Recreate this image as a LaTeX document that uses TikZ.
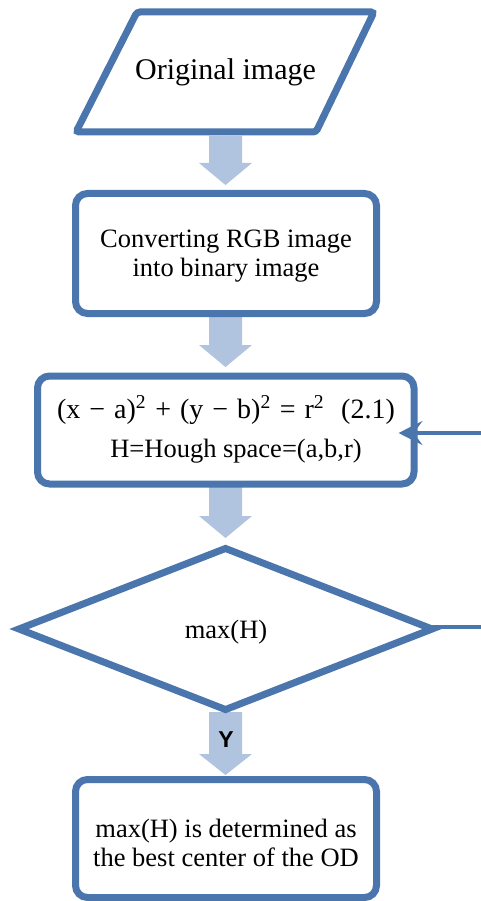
\documentclass[tikz,border=0pt]{standalone}
\usepackage{fontspec}
\setmainfont{Liberation Serif}
\newfontfamily\ysans{Liberation Sans}
\usetikzlibrary{shapes.geometric,shadows,arrows.meta}
\definecolor{bordblue}{HTML}{4A75AD}
\definecolor{arrblue}{HTML}{B0C3DF}
\tikzset{
  shade/.style={drop shadow={opacity=0.22,shadow xshift=2pt,shadow yshift=-3pt}},
  procbox/.style={draw=bordblue,line width=7pt,fill=white,rounded corners=12pt,shade,inner sep=0pt},
  txt/.style={font=\fontsize{26.5}{29}\selectfont,align=center,inner sep=0pt},
  blk/.style={fill=arrblue},
  fb/.style={draw=bordblue,line width=4.5pt},
}
\newcommand\blkarrow[3]{%
  \fill[blk] (209,#1) -- (242,#1) -- (242,#2) -- (252,#2) -- (225.5,#3) -- (199,#2) -- (209,#2) -- cycle;}
\begin{document}
\begin{tikzpicture}[x=1pt,y=-1pt]
\useasboundingbox (0,0) rectangle (481,901);
% block arrows
\blkarrow{136}{163}{185}
\blkarrow{316}{345}{367}
\blkarrow{486}{516}{538}
\blkarrow{712}{754}{775}
% parallelogram
\draw[draw=bordblue,line width=7pt,fill=white,rounded corners=3pt,shade]
  (137,12) -- (374,12) -- (316,132) -- (76,132) -- cycle;
\node[font=\fontsize{30}{33}\selectfont,inner sep=0pt] (orig) at (225.5,72) {Original image};
% box 2
\node[procbox,minimum width=301pt,minimum height=120pt] (conv) at (226,253.5) {};
\node[txt] (convt) at (226,256) {Converting RGB image\\into binary image};
% box 3
\node[procbox,minimum width=376.5pt,minimum height=108pt] (hough) at (225.75,430) {};
\node[anchor=base,inner sep=0pt,font=\fontsize{28}{30}\selectfont] (eq) at (226,418)
  {(x\hspace{9pt}−\hspace{9pt}a)\textsuperscript{2}\hspace{9pt}+\hspace{9pt}(y\hspace{9pt}−\hspace{9pt}b)\textsuperscript{2}\hspace{9pt}=\hspace{9pt}r\textsuperscript{2}\hspace{17pt}(2.1)};
\node[anchor=base,inner sep=0pt,font=\fontsize{26.5}{29}\selectfont] (hs) at (236,457) {H=Hough space=(a,b,r)};
% diamond
\node[diamond,aspect=2.5,draw=bordblue,line width=7pt,fill=white,shade,inner sep=0pt,
  minimum width=416pt,minimum height=164pt] (dm) at (225.5,629) {};
\node[txt] (dmt) at (226,632) {max(H)};
% Y label
\node[font=\ysans\bfseries\fontsize{23}{25}\selectfont,inner sep=0pt] (ylab) at (226,740) {Y};
% box 4
\node[procbox,minimum width=301pt,minimum height=118pt] (best) at (226,838.5) {};
\node[txt] (bestt) at (226,843) {max(H) is determined as\\the best center of the OD};
% feedback connector
\coordinate (fbA) at (481,627);
\coordinate (fbB) at (481,433);
\draw[fb] ([xshift=-12pt]dm.east |- fbA) -- (fbA);
\draw[fb,-{Stealth[length=24pt,width=24pt,inset=9pt]}] (fbB) -- ([xshift=-19pt]hough.east |- fbB);
\end{tikzpicture}
\end{document}
